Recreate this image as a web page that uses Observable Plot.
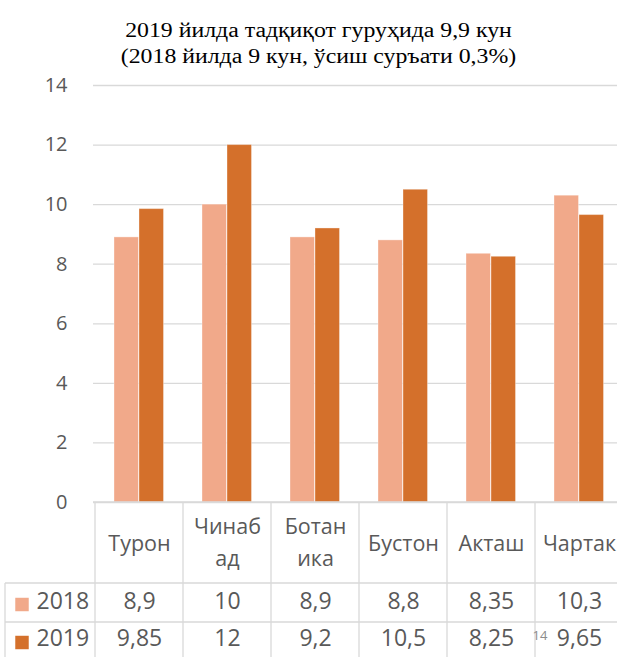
<!DOCTYPE html>
<html>
<head>
<meta charset="utf-8">
<script src="https://cdn.jsdelivr.net/npm/d3@7"></script>
<script src="https://cdn.jsdelivr.net/npm/@observablehq/plot@0.6"></script>
<style>
  html, body { margin: 0; padding: 0; background: #fff; overflow: hidden; }
  #titlebox { position: relative; width: 617px; height: 72px; overflow: hidden; }
  #title {
    position: absolute; left: 0; top: 0; width: 637px; box-sizing: border-box;
    padding-top: 17px;
    text-align: center; font-family: "Liberation Serif", "Times New Roman", serif;
    font-size: 20px; line-height: 26px; color: #000;
    transform: scaleX(1.19); transform-origin: 318.5px 0;
  }
</style>
</head>
<body>
<div id="titlebox"><div id="title">2019 йилда тадқиқот гуруҳида 9,9 кун<br>(2018 йилда 9 кун, ўсиш суръати 0,3%)</div></div>
<div id="chart"></div>
<script>
const categories = ["Турон", "Чинабад", "Ботаника", "Бустон", "Акташ", "Чартак"];
const categoryLabels = ["Турон", "Чинаб\nад", "Ботан\nика", "Бустон", "Акташ", "Чартак"];
const years = ["2018", "2019"];
const values2018 = [8.9, 10, 8.9, 8.8, 8.35, 10.3];
const values2019 = [9.85, 12, 9.2, 10.5, 8.25, 9.65];
const yTicks = [0, 2, 4, 6, 8, 10, 12, 14];
const pageNumber = ["14"];

const colors = {"2018": "#F1A98A", "2019": "#D4702B"};
const textColor = "#595959";
const lineColor = "#D9D9D9";
const fmt = v => String(v).replace(".", ",");

const rows2018 = categories.map((c, i) => ({category: c, value: values2018[i]}));
const rows2019 = categories.map((c, i) => ({category: c, value: values2019[i]}));
const labelRows = categories.map((c, i) => ({category: c, lines: categoryLabels[i].split("\n")}));
const singleLabels = labelRows.filter(r => r.lines.length === 1);
const doubleLabels = labelRows.filter(r => r.lines.length === 2);

// table grid lines, positioned from the library's x scale
function tableLines(index, scales, values, dimensions) {
  const {marginLeft, marginBottom, width, height} = dimensions;
  const x = scales.x;
  const bw = typeof x.bandwidth === "function" ? x.bandwidth() : (width - marginLeft) / categories.length;
  const y0 = height - marginBottom;
  const row1 = y0 + 81, row2 = y0 + 120, left = 5;
  const g = d3.create("svg:g").attr("stroke", lineColor).attr("stroke-width", 1.3).attr("fill", "none");
  const edges = categories.map(c => x(c)).concat([x(categories[categories.length - 1]) + bw]);
  for (const e of edges) g.append("line").attr("x1", e).attr("x2", e).attr("y1", y0).attr("y2", height);
  g.append("line").attr("x1", left).attr("x2", left).attr("y1", row1).attr("y2", height);
  g.append("line").attr("x1", marginLeft).attr("x2", width).attr("y1", y0).attr("y2", y0);
  g.append("line").attr("x1", left).attr("x2", width).attr("y1", row1).attr("y2", row1);
  g.append("line").attr("x1", left).attr("x2", width).attr("y1", row2).attr("y2", row2);
  return g.node();
}

const chart = Plot.plot({
  width: 624,
  height: 585,
  marginTop: 13,
  marginBottom: 155,
  marginLeft: 93,
  marginRight: 0,
  style: {fontFamily: "'Open Sans', sans-serif", fontSize: "20px", color: textColor, background: "#fff", maxWidth: "none"},
  x: {domain: categories, padding: 0, axis: null},
  y: {domain: [0, 14], ticks: yTicks, tickSize: 0, tickPadding: 26, label: null},
  marks: [
    Plot.ruleY(yTicks, {stroke: lineColor, strokeWidth: 1.3}),
    Plot.barY(rows2018, {x: "category", y: "value", fill: colors["2018"], insetLeft: 19, insetRight: 44.5, stroke: "#fff", strokeOpacity: 0.35, strokeWidth: 1}),
    Plot.barY(rows2019, {x: "category", y: "value", fill: colors["2019"], insetLeft: 44, insetRight: 19.5, stroke: "#fff", strokeOpacity: 0.35, strokeWidth: 1}),
    tableLines,
    // category labels row
    Plot.text(singleLabels, {x: "category", text: r => r.lines[0], frameAnchor: "bottom", dy: 48, fontSize: 21.5, fill: textColor}),
    Plot.text(doubleLabels, {x: "category", text: r => r.lines[0], frameAnchor: "bottom", dy: 31, fontSize: 21.5, fill: textColor}),
    Plot.text(doubleLabels, {x: "category", text: r => r.lines[1], frameAnchor: "bottom", dy: 63, fontSize: 21.5, fill: textColor}),
    // value rows
    Plot.text(categories, {x: d => d, text: (d, i) => fmt(values2018[i]), frameAnchor: "bottom", dy: 106.5, fontSize: 23, fill: textColor}),
    Plot.text(categories, {x: d => d, text: (d, i) => fmt(values2019[i]), frameAnchor: "bottom", dy: 143.5, fontSize: 23, fill: textColor}),
    // legend keys
    Plot.dot([years[0]], {frameAnchor: "bottom-left", dx: -71.5, dy: 102, symbol: "square", r: 7.6, fill: colors["2018"], stroke: null}),
    Plot.dot([years[1]], {frameAnchor: "bottom-left", dx: -71.5, dy: 140, symbol: "square", r: 7.6, fill: colors["2019"], stroke: null}),
    Plot.text([years[0]], {text: d => d, frameAnchor: "bottom-left", dx: -57, dy: 106.5, textAnchor: "start", fontSize: 23, fill: textColor}),
    Plot.text([years[1]], {text: d => d, frameAnchor: "bottom-left", dx: -57, dy: 143.5, textAnchor: "start", fontSize: 23, fill: textColor}),
    // page number artefact
    Plot.text(pageNumber, {text: d => d, frameAnchor: "bottom-left", dx: 439, dy: 137, fontSize: 13, fill: "#8c8c8c"})
  ]
});
document.getElementById("chart").appendChild(chart);
</script>
</body>
</html>
